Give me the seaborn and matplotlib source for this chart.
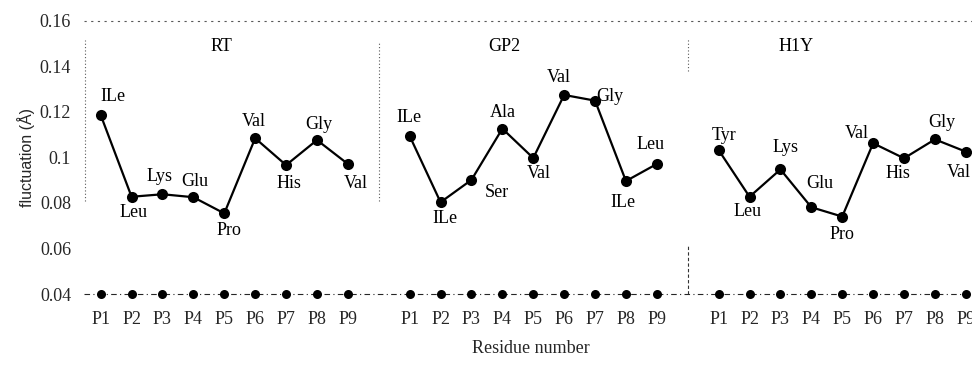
import numpy as np
import pandas as pd
import matplotlib
matplotlib.use("Agg")
import matplotlib.pyplot as plt
import seaborn as sns

# ---- data ----
positions = ["P1", "P2", "P3", "P4", "P5", "P6", "P7", "P8", "P9"]
groups = ["RT", "GP2", "H1Y"]

rt_values = [0.1186, 0.0827, 0.0838, 0.0825, 0.0754, 0.1084, 0.0966, 0.1076, 0.0971]
gp2_values = [0.1094, 0.0803, 0.0901, 0.1126, 0.0997, 0.1274, 0.1249, 0.0896, 0.0971]
h1y_values = [0.1032, 0.0827, 0.0947, 0.0781, 0.0740, 0.1062, 0.0996, 0.1079, 0.1025]

rt_residues = ["ILe", "Leu", "Lys", "Glu", "Pro", "Val", "His", "Gly", "Val"]
gp2_residues = ["ILe", "ILe", "Ser", "Ala", "Val", "Val", "Gly", "ILe", "Leu"]
h1y_residues = ["Tyr", "Leu", "Lys", "Glu", "Pro", "Val", "His", "Gly", "Val"]

baseline_value = 0.04
y_ticks = [0.04, 0.06, 0.08, 0.10, 0.12, 0.14, 0.16]
y_tick_labels = ["0.04", "0.06", "0.08", "0.1", "0.12", "0.14", "0.16"]

# ---- label offsets (pixels, styling) ----
rt_off = [(12, 19), (2, -16), (-3, 18), (1, 16), (5, -17), (-1, 17), (3, -18), (2, 16), (8, -20)]
gp2_off = [(-1, 18), (4, -16), (25, -13), (0, 16), (6, -15), (-5, 17), (15, 4), (-3, -21), (-6, 19)]
h1y_off = [(5, 15), (-2, -15), (5, 22), (8, 24), (0, -18), (-16, 10), (-6, -15), (7, 17), (-7, -21)]

all_values = [rt_values, gp2_values, h1y_values]
all_res = [rt_residues, gp2_residues, h1y_residues]
all_off = [rt_off, gp2_off, h1y_off]

rows = []
for gi, g in enumerate(groups):
    for i, p in enumerate(positions):
        rows.append({"group": g, "pos": gi * 10 + i, "label": p,
                     "fluct": all_values[gi][i], "res": all_res[gi][i],
                     "base": baseline_value})
df = pd.DataFrame(rows)

sns.set_theme(style="white")
plt.rcParams["font.family"] = ["Liberation Serif", "DejaVu Serif"]

FS = 13

fig = plt.figure(figsize=(9.72, 3.66), dpi=100)
ax = fig.add_axes([0.0861, 0.1967, 0.9139, 0.7467])

# baseline markers (dash-dot line)
for g in groups:
    sub = df[df.group == g]
    sns.lineplot(data=sub, x="pos", y="base", ax=ax, color="black",
                 marker="o", markersize=6.5, markeredgewidth=0,
                 linewidth=0.0, estimator=None, clip_on=False, zorder=3)
ax.plot([-0.55, 28.6], [baseline_value, baseline_value], color="0.15",
        linewidth=0.8, linestyle=(0, (5, 3, 1, 3)), clip_on=False, zorder=2)

# main series
for g in groups:
    sub = df[df.group == g]
    sns.lineplot(data=sub, x="pos", y="fluct", ax=ax, color="black",
                 marker="o", markersize=8, markeredgewidth=0,
                 linewidth=1.6, estimator=None, clip_on=False, zorder=4)

# residue labels
for gi, g in enumerate(groups):
    sub = df[df.group == g].reset_index(drop=True)
    for i, r in sub.iterrows():
        ax.annotate(r["res"], (r["pos"], r["fluct"]),
                    xytext=all_off[gi][i], textcoords="offset pixels",
                    ha="center", va="center", fontsize=FS, color="black",
                    annotation_clip=False)

# panel titles
title_x = [3.9, 13.05, 22.5]
for gi, g in enumerate(groups):
    ax.text(title_x[gi], 0.1485, g, ha="center", va="center", fontsize=FS,
            color="black")

# frame: dotted top line and separators
ax.plot([-0.55, 28.6], [0.16, 0.16], color="0.35", linewidth=0.8,
        linestyle=(0, (2, 4)), clip_on=False)
ax.plot([-0.5, -0.5], [0.081, 0.1515], color="0.35", linewidth=0.8,
        linestyle=(0, (1, 2)))
ax.plot([9, 9], [0.081, 0.151], color="0.35", linewidth=0.8,
        linestyle=(0, (1, 2)))
ax.plot([19, 19], [0.138, 0.152], color="0.35", linewidth=0.8,
        linestyle=(0, (1, 2)))
ax.plot([19, 19], [0.04, 0.062], color="0.2", linewidth=0.8,
        linestyle=(0, (3, 2)))

for s in ax.spines.values():
    s.set_visible(False)

ax.set_xlim(-0.55, 28.2)
ax.set_ylim(0.04, 0.16)
ax.set_xticks(df["pos"].tolist())
ax.set_xticklabels(df["label"].tolist(), fontsize=FS)
ax.set_yticks(y_ticks)
ax.set_yticklabels(y_tick_labels, fontsize=FS)
ax.tick_params(axis="x", length=0, pad=12)
ax.tick_params(axis="y", length=0, pad=9)
ax.set_xlabel("")
ax.set_ylabel("")
ax.grid(False)

fig.text(0.546, 0.049, "Residue number", ha="center", va="center", fontsize=FS)
fig.text(0.027, 0.571, "fluctuation (Å)", ha="center", va="center",
         rotation=90, fontsize=11.5, family=["Liberation Sans", "DejaVu Sans"])

fig.savefig("out.png", dpi=100)
